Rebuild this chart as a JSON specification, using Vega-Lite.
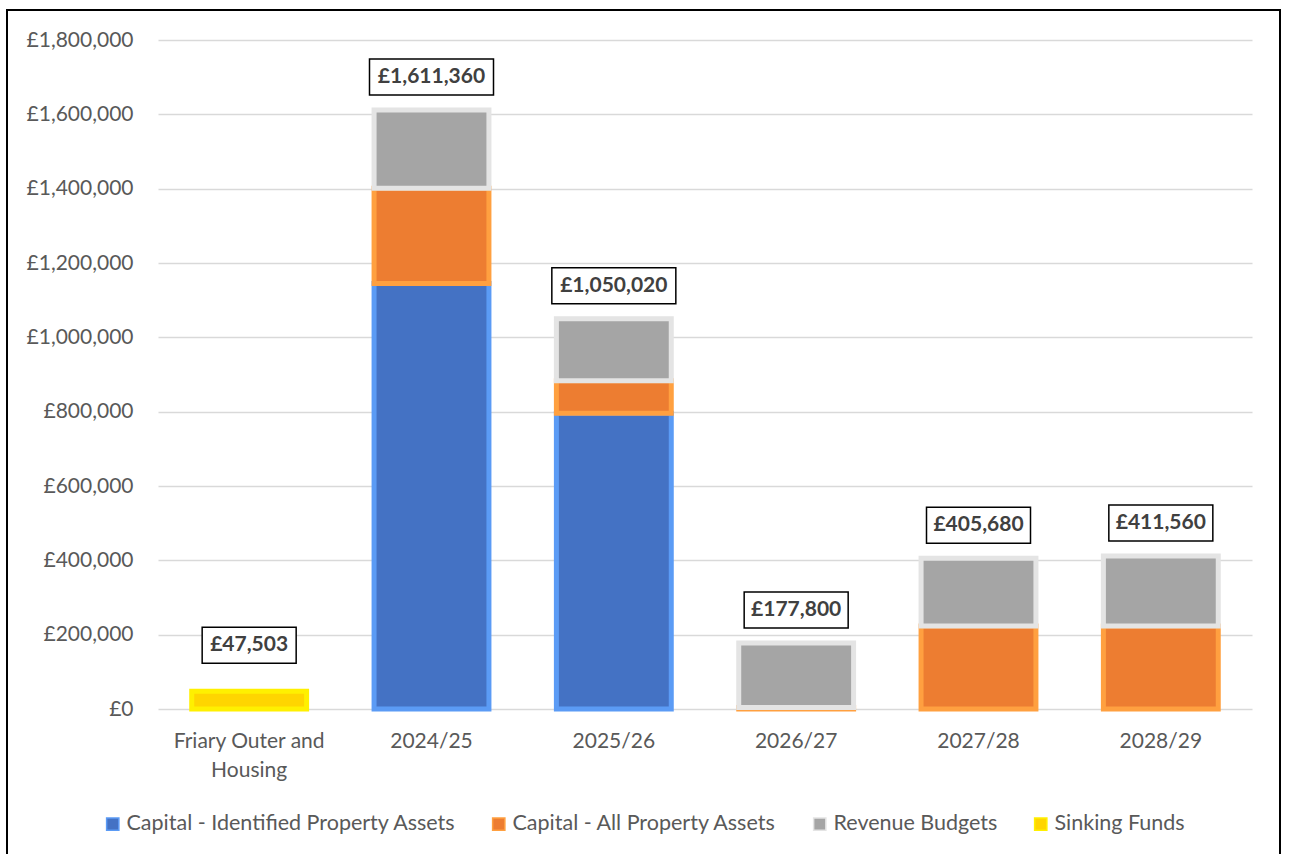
{
  "$schema": "https://vega.github.io/schema/vega-lite/v6.json",
  "width": 1094,
  "height": 669,
  "autosize": {"type": "none"},
  "padding": {"left": 158, "top": 40, "right": 40, "bottom": 145},
  "background": "white",
  "config": {
    "font": "Lato",
    "view": {"stroke": null},
    "locale": {"number": {"decimal": ".", "thousands": ",", "grouping": [3], "currency": ["£", ""]}},
    "axis": {"labelFont": "Lato", "labelFontSize": 21, "labelColor": "#595959"},
    "legend": {"labelFont": "Lato", "labelFontSize": 21.5, "labelColor": "#595959", "labelLimit": 600}
  },
  "datasets": {
    "costs": [
      {"cat": "Friary Outer and Housing", "series": "Sinking Funds", "value": 47503, "rank": 4},
      {"cat": "2024/25", "series": "Capital - Identified Property Assets", "value": 1145000, "rank": 1},
      {"cat": "2024/25", "series": "Capital - All Property Assets", "value": 256000, "rank": 2},
      {"cat": "2024/25", "series": "Revenue Budgets", "value": 210360, "rank": 3},
      {"cat": "2025/26", "series": "Capital - Identified Property Assets", "value": 796000, "rank": 1},
      {"cat": "2025/26", "series": "Capital - All Property Assets", "value": 87000, "rank": 2},
      {"cat": "2025/26", "series": "Revenue Budgets", "value": 167020, "rank": 3},
      {"cat": "2026/27", "series": "Capital - All Property Assets", "value": 4000, "rank": 2},
      {"cat": "2026/27", "series": "Revenue Budgets", "value": 173800, "rank": 3},
      {"cat": "2027/28", "series": "Capital - All Property Assets", "value": 223000, "rank": 2},
      {"cat": "2027/28", "series": "Revenue Budgets", "value": 182680, "rank": 3},
      {"cat": "2028/29", "series": "Capital - All Property Assets", "value": 223000, "rank": 2},
      {"cat": "2028/29", "series": "Revenue Budgets", "value": 188560, "rank": 3}
    ],
    "totals": [
      {"cat": "Friary Outer and Housing", "total": 47503},
      {"cat": "2024/25", "total": 1611360},
      {"cat": "2025/26", "total": 1050020},
      {"cat": "2026/27", "total": 177800},
      {"cat": "2027/28", "total": 405680},
      {"cat": "2028/29", "total": 411560}
    ],
    "frame": [{"f": 1}]
  },
  "layer": [
    {
      "data": {"name": "frame"},
      "mark": {"type": "rect", "fillOpacity": 0, "stroke": "black", "strokeWidth": 2, "clip": false},
      "encoding": {
        "x": {"datum": 0, "type": "quantitative", "scale": {"domain": [0, 1], "range": [-151, 1122]}, "axis": null},
        "x2": {"datum": 1},
        "y": {"datum": 0, "type": "quantitative", "scale": {"domain": [0, 1], "range": [-30, 830]}, "axis": null},
        "y2": {"datum": 1}
      }
    },
    {
      "layer": [
        {
          "data": {"name": "costs"},
          "mark": {"type": "bar", "strokeWidth": 5},
          "encoding": {
            "x": {
              "field": "cat", "type": "nominal",
              "sort": ["Friary Outer and Housing", "2024/25", "2025/26", "2026/27", "2027/28", "2028/29"],
              "scale": {"paddingInner": 0.37, "paddingOuter": 0.185},
              "axis": {
                "title": null, "labelAngle": 0, "ticks": false, "domain": false,
                "labelPadding": 21, "labelLineHeight": 29,
                "labelExpr": "datum.label == 'Friary Outer and Housing' ? ['Friary Outer and', 'Housing'] : datum.label"
              }
            },
            "y": {
              "field": "value", "type": "quantitative", "stack": "zero",
              "scale": {"domain": [0, 1800000]},
              "axis": {
                "title": null, "values": [0, 200000, 400000, 600000, 800000, 1000000, 1200000, 1400000, 1600000, 1800000],
                "labelExpr": "'£' + format(datum.value, ',')",
                "grid": true, "gridColor": "#D9D9D9", "gridWidth": 1.5,
                "ticks": false, "domain": false, "labelPadding": 25
              }
            },
            "color": {
              "field": "series", "type": "nominal",
              "scale": {
                "domain": ["Capital - Identified Property Assets", "Capital - All Property Assets", "Revenue Budgets", "Sinking Funds"],
                "range": ["#4472C4", "#ED7D31", "#A5A5A5", "#FFD500"]
              },
              "legend": {
                "title": null, "orient": "none", "direction": "horizontal",
                "legendX": -56, "legendY": 773,
                "symbolType": "square", "symbolSize": 150, "columnPadding": 32, "labelOffset": 3
              }
            },
            "stroke": {
              "field": "series", "type": "nominal",
              "scale": {
                "domain": ["Capital - Identified Property Assets", "Capital - All Property Assets", "Revenue Budgets", "Sinking Funds"],
                "range": ["#5B9BF5", "#FFA040", "#E4E4E4", "#FFF000"]
              },
              "legend": null
            },
            "order": {"field": "rank", "type": "quantitative"}
          }
        },
        {
          "data": {"name": "totals"},
          "transform": [{"filter": "datum.total >= 1000000"}],
          "mark": {"type": "bar", "width": 124, "fill": "white", "stroke": "black", "strokeWidth": 1.5, "yOffset": -51, "y2Offset": -15},
          "encoding": {
            "x": {"field": "cat", "type": "nominal", "sort": ["Friary Outer and Housing", "2024/25", "2025/26", "2026/27", "2027/28", "2028/29"]},
            "y": {"field": "total", "type": "quantitative"},
            "y2": {"field": "total"}
          }
        },
        {
          "data": {"name": "totals"},
          "transform": [{"filter": "datum.total < 1000000 && datum.total >= 100000"}],
          "mark": {"type": "bar", "width": 104, "fill": "white", "stroke": "black", "strokeWidth": 1.5, "yOffset": -51, "y2Offset": -15},
          "encoding": {
            "x": {"field": "cat", "type": "nominal", "sort": ["Friary Outer and Housing", "2024/25", "2025/26", "2026/27", "2027/28", "2028/29"]},
            "y": {"field": "total", "type": "quantitative"},
            "y2": {"field": "total"}
          }
        },
        {
          "data": {"name": "totals"},
          "transform": [{"filter": "datum.total < 100000"}],
          "mark": {"type": "bar", "width": 94, "fill": "white", "stroke": "black", "strokeWidth": 1.5, "yOffset": -64, "y2Offset": -28},
          "encoding": {
            "x": {"field": "cat", "type": "nominal", "sort": ["Friary Outer and Housing", "2024/25", "2025/26", "2026/27", "2027/28", "2028/29"]},
            "y": {"field": "total", "type": "quantitative"},
            "y2": {"field": "total"}
          }
        },
        {
          "data": {"name": "totals"},
          "transform": [{"filter": "datum.total >= 100000"}],
          "mark": {"type": "text", "font": "Lato", "fontWeight": "bold", "fontSize": 21, "color": "#404040", "baseline": "middle", "dy": -33},
          "encoding": {
            "x": {"field": "cat", "type": "nominal", "sort": ["Friary Outer and Housing", "2024/25", "2025/26", "2026/27", "2027/28", "2028/29"]},
            "y": {"field": "total", "type": "quantitative"},
            "text": {"field": "total", "type": "quantitative", "format": "$,.0f"}
          }
        },
        {
          "data": {"name": "totals"},
          "transform": [{"filter": "datum.total < 100000"}],
          "mark": {"type": "text", "font": "Lato", "fontWeight": "bold", "fontSize": 21, "color": "#404040", "baseline": "middle", "dy": -46},
          "encoding": {
            "x": {"field": "cat", "type": "nominal", "sort": ["Friary Outer and Housing", "2024/25", "2025/26", "2026/27", "2027/28", "2028/29"]},
            "y": {"field": "total", "type": "quantitative"},
            "text": {"field": "total", "type": "quantitative", "format": "$,.0f"}
          }
        }
      ]
    }
  ],
  "resolve": {"scale": {"x": "independent", "y": "independent"}}
}
